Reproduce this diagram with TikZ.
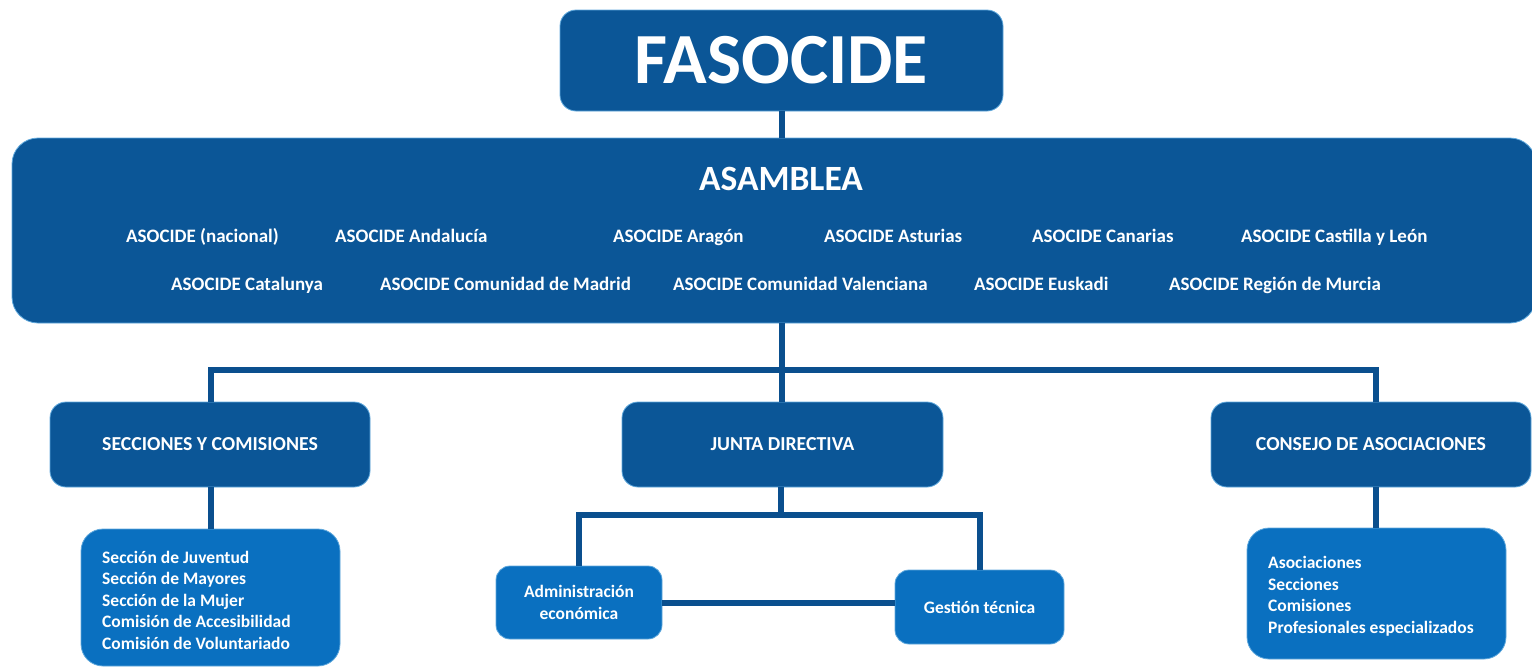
\documentclass[tikz,border=0pt]{standalone}
\usepackage{fontspec}
\setmainfont{Carlito}
\definecolor{darkbox}{HTML}{0B5697}
\definecolor{lightbox}{HTML}{0A70C0}
\definecolor{linec}{HTML}{0A4F8E}
\definecolor{rimc}{HTML}{5FA8DC}
\begin{document}
\begin{tikzpicture}[x=1pt,y=-1pt,
  dbox/.style={fill=darkbox,draw=rimc,line width=0.8pt,text=white,font=\bfseries,inner sep=0pt},
  lbox/.style={fill=lightbox,draw=rimc,line width=0.8pt,text=white,font=\bfseries,inner sep=0pt},
  member/.style={text=white,anchor=base west,inner sep=0pt,font=\bfseries\fontsize{19}{22}\selectfont},
  hdr/.style={dbox,rounded corners=16pt,minimum width=320pt,minimum height=85pt,font=\bfseries\fontsize{19.8}{22}\selectfont},
  conn/.style={draw=linec,line width=6pt}]
\useasboundingbox (0,0) rectangle (1532,667);
% boxes
\node[dbox,rounded corners=16pt,minimum width=443pt,minimum height=101pt,font=\bfseries\fontsize{72}{80}\selectfont] (fasocide) at (781.5,60.5) {FASOCIDE};
\node[dbox,rounded corners=26pt,minimum width=1524pt,minimum height=185pt] (asamblea) at (774,230.5) {};
\node[text=white,font=\bfseries\fontsize{35.5}{40}\selectfont,inner sep=0pt] (asmtitle) at (781,179) {ASAMBLEA};
% members
\node[member] (m1) at (126,242) {ASOCIDE (nacional)};
\node[member] (m2) at (335,242) {ASOCIDE Andalucía};
\node[member] (m3) at (613,242) {ASOCIDE Aragón};
\node[member] (m4) at (824,242) {ASOCIDE Asturias};
\node[member] (m5) at (1032,242) {ASOCIDE Canarias};
\node[member] (m6) at (1241,242) {ASOCIDE Castilla y León};
\node[member] (m7) at (171,290) {ASOCIDE Catalunya};
\node[member] (m8) at (380,290) {ASOCIDE Comunidad de Madrid};
\node[member] (m9) at (673,290) {ASOCIDE Comunidad Valenciana};
\node[member] (m10) at (974,290) {ASOCIDE Euskadi};
\node[member] (m11) at (1169,290) {ASOCIDE Región de Murcia};
% level 2
\node[hdr] (secc) at (210,444.5) {SECCIONES Y COMISIONES};
\node[hdr,minimum width=321pt] (junta) at (782.5,444.5) {JUNTA DIRECTIVA};
\node[hdr] (cons) at (1371,444.5) {CONSEJO DE ASOCIACIONES};
% level 3
\node[lbox,rounded corners=22pt,minimum width=259pt,minimum height=137pt] (seclist) at (210.5,597.5) {};
\node[text=white,font=\bfseries\fontsize{17.5}{21.5}\selectfont,align=left,anchor=north west,inner sep=0pt] (sectext) at (102,551) {Sección de Juventud\\Sección de Mayores\\Sección de la Mujer\\Comisión de Accesibilidad\\Comisión de Voluntariado};
\node[lbox,rounded corners=14pt,minimum width=166pt,minimum height=73pt,align=center,font=\bfseries\fontsize{17.5}{22}\selectfont] (admin) at (579,602.5) {Administración\\económica};
\node[lbox,rounded corners=14pt,minimum width=169pt,minimum height=74pt,font=\bfseries\fontsize{17.5}{22}\selectfont] (gest) at (979.5,607) {Gestión técnica};
\node[lbox,rounded corners=22pt,minimum width=259pt,minimum height=131pt] (conslist) at (1376.5,593.5) {};
\node[text=white,font=\bfseries\fontsize{17.5}{21.7}\selectfont,align=left,anchor=north west,inner sep=0pt] (constext) at (1268,556) {Asociaciones\\Secciones\\Comisiones\\Profesionales especializados};
% connectors
\coordinate (barL) at (211,370);
\coordinate (barR) at (1376,370);
\coordinate (jb) at (781,515);
\draw[conn] (fasocide.south) -- (fasocide.south |- asamblea.north);
\draw[conn] (fasocide.south |- asamblea.south) -- (fasocide.south |- junta.north);
\draw[conn,line join=miter] (barL |- secc.north) -- (barL) -- (barR) -- (barR |- cons.north);
\draw[conn] (barL |- secc.south) -- (barL |- seclist.north);
\draw[conn] (barR |- cons.south) -- (barR |- conslist.north);
\draw[conn] (jb |- junta.south) -- (jb);
\draw[conn,line join=miter] (admin.north) -- (admin.north |- jb) -- (gest.north |- jb) -- (gest.north);
\draw[conn] (admin.east |- 0,603) -- (gest.west |- 0,603);
\end{tikzpicture}
\end{document}
